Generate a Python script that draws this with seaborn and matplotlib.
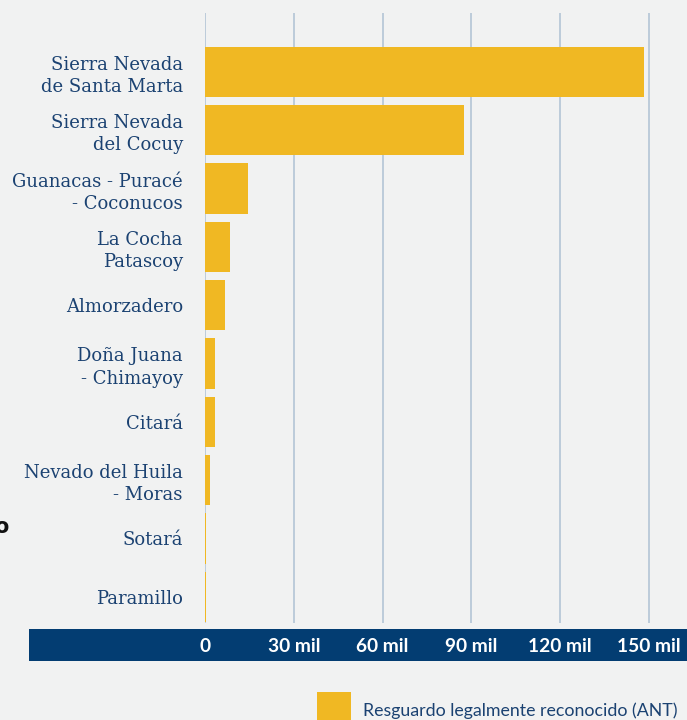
import matplotlib
matplotlib.use("Agg")
import matplotlib.pyplot as plt
import seaborn as sns
import pandas as pd
from matplotlib.patches import Rectangle

categories = [
    "Sierra Nevada\nde Santa Marta",
    "Sierra Nevada\ndel Cocuy",
    "Guanacas - Puracé\n- Coconucos",
    "La Cocha\nPatascoy",
    "Almorzadero",
    "Doña Juana\n- Chimayoy",
    "Citará",
    "Nevado del Huila\n- Moras",
    "Sotará",
    "Paramillo",
]
values = [148300, 87500, 14500, 8400, 6800, 3400, 3400, 1700, 500, 500]
tick_values = [0, 30000, 60000, 90000, 120000, 150000]
tick_labels = ["0", "30 mil", "60 mil", "90 mil", "120 mil", "150 mil"]
series_name = "Resguardo legalmente reconocido (ANT)"

BG = "#f1f2f2"
BAR = "#f0b823"
NAVY = "#1b4272"
BAND = "#033d72"
GRID = "#bccbda"

sns.set_theme(style="white")
plt.rcParams["font.family"] = ["DejaVu Sans"]

W, H = 687, 720
fig = plt.figure(figsize=(W / 100, H / 100), dpi=100, facecolor=BG)
ax = fig.add_axes([205 / W, 1 - 623 / H, (W - 205) / W, (623 - 13) / H])
ax.set_facecolor("none")

df = pd.DataFrame({"area": categories, "value": values})
sns.barplot(data=df, x="value", y="area", orient="h", color=BAR, width=0.86,
            saturation=1, ax=ax, label=series_name, zorder=3, linewidth=0,
            edgecolor="none")
if ax.get_legend() is not None:
    ax.get_legend().remove()

ax.set_xlim(0, 162800)
ax.set_ylim(9.45, -1.01)
ax.set_xticks(tick_values)
ax.set_xticklabels(tick_labels)
ax.set_xlabel("")
ax.set_ylabel("")
for s in ax.spines.values():
    s.set_visible(False)
ax.grid(axis="x", color=GRID, linewidth=1.4, zorder=0)
ax.grid(axis="y", visible=False)
ax.tick_params(axis="x", length=0, pad=11, colors="white", labelsize=13.8)
for t in ax.get_xticklabels():
    t.set_fontweight("bold")
    t.set_family(["Lato", "DejaVu Sans"])
ax.tick_params(axis="y", length=0, pad=16, colors=NAVY, labelsize=13)
for t in ax.get_yticklabels():
    t.set_family(["DejaVu Serif"])
    t.set_linespacing(1.3)

# dark axis band
fig.add_artist(Rectangle((29 / W, 1 - 661 / H), (W - 29) / W, 32 / H,
                         transform=fig.transFigure, facecolor=BAND,
                         edgecolor="none", zorder=0))

# cut-off text fragment on the left edge (as in the reference)
fig.text(-6 / W, 1 - 527 / H, "o", fontsize=15, fontweight="bold",
         color="#111111", va="center", ha="left")

handles, labels = ax.get_legend_handles_labels()
leg = fig.legend(handles, labels, loc="upper left", bbox_to_anchor=(317 / W, 1 - 692 / H),
                 frameon=False, borderpad=0, borderaxespad=0,
                 handlelength=1.9, handleheight=2.8, handletextpad=0.7,
                 prop={"family": ["Lato", "DejaVu Sans"], "size": 12.8})
for t in leg.get_texts():
    t.set_color(NAVY)

fig.savefig("out.png", dpi=100, facecolor=BG)
